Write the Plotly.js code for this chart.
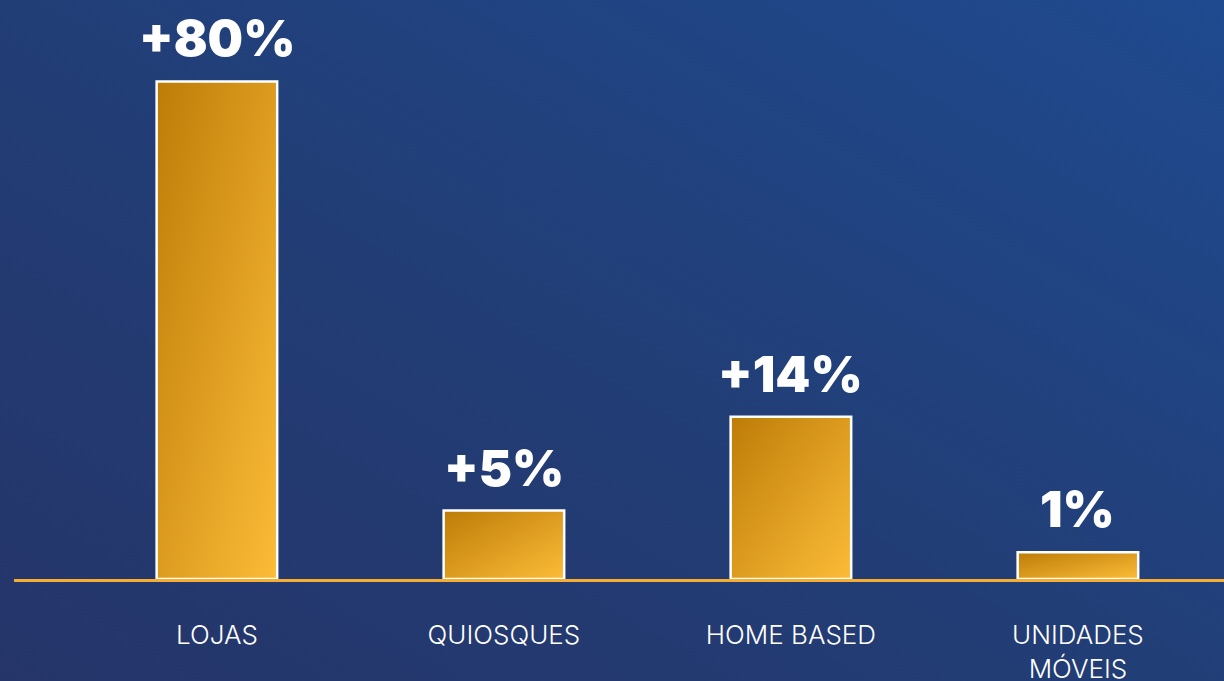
<!DOCTYPE html>
<html>
<head>
<meta charset="utf-8">
<script src="https://cdn.plot.ly/plotly-3.0.1.min.js"></script>
<style>
html,body{margin:0;padding:0;width:1224px;height:681px;overflow:hidden;
background:linear-gradient(30deg,#25356a 0%,#223d75 45%,#1f4a8f 100%);}
#chart{width:1224px;height:681px;}
</style>
</head>
<body>
<div id="chart"></div>
<script>
// Categories (axis labels)
const categories = ['LOJAS', 'QUIOSQUES', 'HOME BASED', 'UNIDADES<br>MÓVEIS'];
// Bar heights as drawn in the picture (scale: tallest bar = 80)
const barHeights = [80, 11.0, 26.1, 4.3];
// Value labels printed above the bars
const valueLabels = ['+80%', '+5%', '+14%', '1%'];

const xIdx = categories.map((_, i) => i);

const trace = {
  type: 'bar',
  x: xIdx,
  y: barHeights,
  width: 0.42,
  marker: {color: '#e0a02a', line: {color: '#ffffff', width: 2.5}},
  hoverinfo: 'skip'
};

const annotations = xIdx.map((x, i) => ({
  x: x, y: barHeights[i], xref: 'x', yref: 'y',
  text: valueLabels[i], showarrow: false,
  yanchor: 'bottom', yshift: 11,
  font: {family: 'Inter, sans-serif', size: 50, color: '#ffffff', weight: 900}
}));

const layout = {
  width: 1224, height: 681,
  margin: {l: 14, r: 0, t: 0, b: 102},
  paper_bgcolor: 'rgba(0,0,0,0)',
  plot_bgcolor: 'rgba(0,0,0,0)',
  showlegend: false,
  xaxis: {
    range: [-0.707, 3.509],
    tickmode: 'array', tickvals: xIdx, ticktext: categories,
    showgrid: false, zeroline: false,
    showline: true, linecolor: '#f7ae30', linewidth: 3,
    ticks: '', ticklabelstandoff: 31,
    tickfont: {family: 'Inter, sans-serif', size: 26, color: '#ffffff', weight: 300},
    layer: 'above traces'
  },
  yaxis: {
    range: [0, 93.1], visible: false, showgrid: false, zeroline: false
  },
  annotations: annotations
};

Plotly.newPlot('chart', [trace], layout, {displayModeBar: false, staticPlot: true}).then(gd => {
  const svg = gd.querySelector('.main-svg');
  const ns = 'http://www.w3.org/2000/svg';
  let defs = svg.querySelector('defs');
  if (!defs) { defs = document.createElementNS(ns, 'defs'); svg.insertBefore(defs, svg.firstChild); }
  const lg = document.createElementNS(ns, 'linearGradient');
  lg.setAttribute('id', 'barGrad');
  lg.setAttribute('x1', '0'); lg.setAttribute('y1', '0');
  lg.setAttribute('x2', '1'); lg.setAttribute('y2', '1');
  [['0%', '#bd7c07'], ['100%', '#fcbc38']].forEach(([o, c]) => {
    const s = document.createElementNS(ns, 'stop');
    s.setAttribute('offset', o); s.setAttribute('stop-color', c);
    lg.appendChild(s);
  });
  defs.appendChild(lg);
  gd.querySelectorAll('.trace.bars .point path').forEach(p => {
    p.style.fill = 'url(#barGrad)';
  });
});
</script>
</body>
</html>
